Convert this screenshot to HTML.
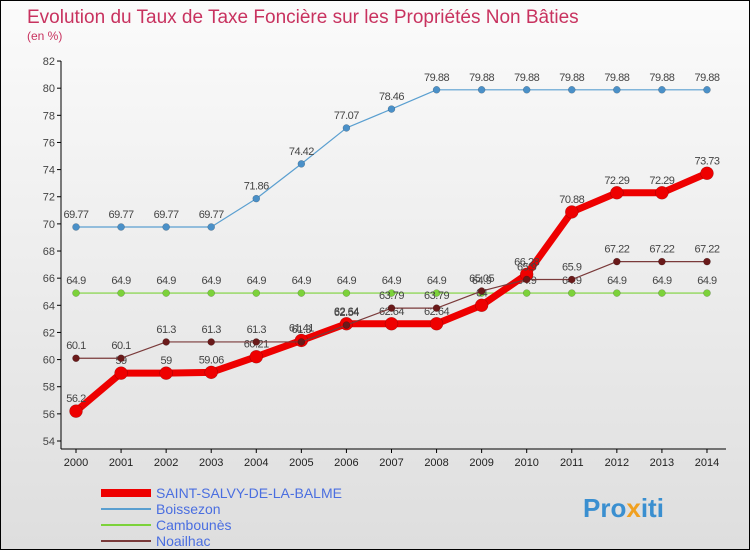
<!DOCTYPE html>
<html><head><meta charset="utf-8"><style>
body{margin:0;}
#c{width:748px;height:548px;border:1px solid #000;position:relative;background:linear-gradient(#fbfbfb,#dedede);font-family:"Liberation Sans",sans-serif;overflow:hidden}
</style></head><body>
<div id="c">
<svg id="s" width="748" height="548" xmlns="http://www.w3.org/2000/svg">
<text x="26" y="22" font-size="19" fill="#c8325f">Evolution du Taux de Taxe Foncière sur les Propriétés Non Bâties</text>
<text x="26" y="39" font-size="12" fill="#c8325f">(en %)</text>
<g id="axes"></g><g id="series"></g><g id="legend"></g>
<text x="582" y="516" font-size="26" font-weight="bold" fill="#3a8fd0">Pro<tspan fill="#f0a020">x</tspan>iti</text>
</svg></div>
<script>
const years=[2000,2001,2002,2003,2004,2005,2006,2007,2008,2009,2010,2011,2012,2013,2014];
const yTicks=[54,56,58,60,62,64,66,68,70,72,74,76,78,80,82];
const salvy=[56.2,59,59,59.06,60.21,61.41,62.64,62.64,62.64,64,66.28,70.88,72.29,72.29,73.73];
const boissezon=[69.77,69.77,69.77,69.77,71.86,74.42,77.07,78.46,79.88,79.88,79.88,79.88,79.88,79.88,79.88];
const cambounes=[64.9,64.9,64.9,64.9,64.9,64.9,64.9,64.9,64.9,64.9,64.9,64.9,64.9,64.9,64.9];
const noailhac=[60.1,60.1,61.3,61.3,61.3,61.3,62.54,63.79,63.79,65.05,65.9,65.9,67.22,67.22,67.22];
const seriesNames=["SAINT-SALVY-DE-LA-BALME","Boissezon","Camboun\u00e8s","Noailhac"];
const NS="http://www.w3.org/2000/svg";
const x=i=>75+i*45.07;
const y=v=>440-(v-54)*13.57;
function mk(p,t,a){const e=document.createElementNS(NS,t);for(const k in a)e.setAttribute(k,a[k]);p.appendChild(e);return e;}
const ax=document.getElementById('axes');
for(const t of yTicks){
 const l=mk(ax,'line',{x1:56,x2:60,y1:y(t),y2:y(t),stroke:'#000'});
 
 
 const tx=mk(ax,'text',{x:54,y:y(t)+4,'font-size':11,fill:'#444','text-anchor':'end'});tx.textContent=t;
 
 
}
const ya=mk(ax,'line',{x1:60,x2:60,y1:y(82),y2:448,stroke:'#000'});


const xa=mk(ax,'line',{x1:60,x2:725,y1:448,y2:448,stroke:'#000'});


years.forEach((yr,i)=>{
 const l=mk(ax,'line',{x1:x(i),x2:x(i),y1:448,y2:452,stroke:'#000'});
 
 
 const t=mk(ax,'text',{x:x(i),y:465,'font-size':11,fill:'#222','text-anchor':'middle'});t.textContent=yr;
 
 
});
const sg=document.getElementById('series');
function draw(data,color,w,r,fill,name){
 const g=mk(sg,'g',{});
 
 
 const pl=mk(g,'polyline',{points:data.map((v,i)=>x(i)+','+y(v)).join(' '),fill:'none',stroke:color,'stroke-width':w,'stroke-linejoin':'round'});
 
 
 data.forEach((v,i)=>{
  const c=mk(g,'circle',{cx:x(i),cy:y(v),r:r,fill:fill,stroke:'rgba(0,0,0,0.3)','stroke-width':0.5});
  
  
  const t=mk(g,'text',{x:x(i),y:y(v)-9,'font-size':11,fill:'#444','text-anchor':'middle','letter-spacing':'-0.5'});t.textContent=v;
  
  
 });
}
draw(cambounes,'#7cd23a',1.2,3.5,'#7cd23a','cambounes');
draw(boissezon,'#5a9fd0',1.2,3.5,'#4a90c8','boissezon');
draw(salvy,'#ee0000',7,6.5,'#ee0000','saint-salvy');
draw(noailhac,'#7a3a3a',1.2,3.5,'#6a1a1a','noailhac');
const lg=document.getElementById('legend');
const cols=['#ee0000','#5a9fd0','#7cd23a','#7a3a3a'],ws=[8,2,2,2];
seriesNames.forEach((n,i)=>{
 const yy=492+i*16;
 const l=mk(lg,'line',{x1:100,x2:150,y1:yy,y2:yy,stroke:cols[i],'stroke-width':ws[i]});
 
 
 const t=mk(lg,'text',{x:155,y:yy+5,'font-size':14,fill:'#4a6ee0'});t.textContent=n;
 
 
});
</script>
</body></html>
